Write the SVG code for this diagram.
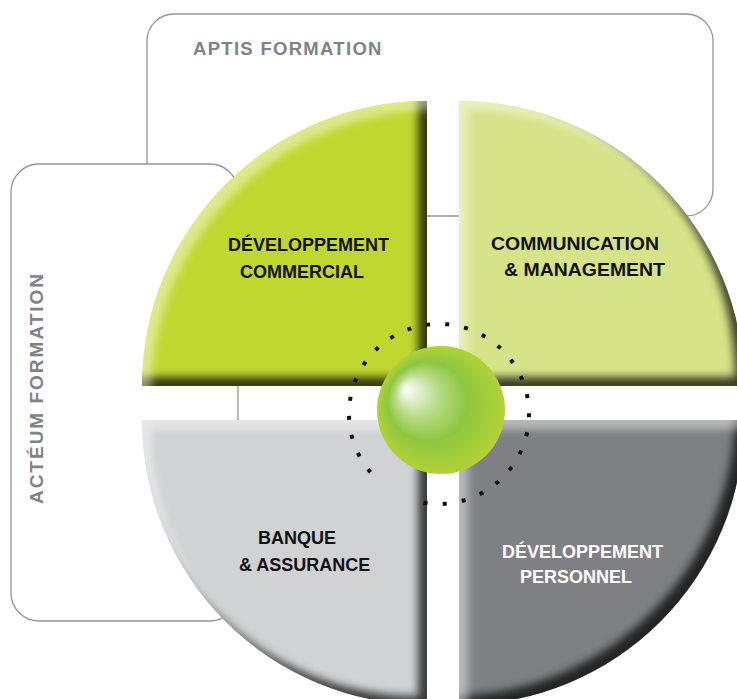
<svg xmlns="http://www.w3.org/2000/svg" width="737" height="699" viewBox="0 0 737 699">
  <style>
    .box { fill: #ffffff; stroke: #939598; stroke-width: 1.3; }
    .side { font-family: "Liberation Sans", Arial, sans-serif; font-weight: bold; fill: #808285; }
    .lbl { font-family: "Liberation Sans", Arial, sans-serif; font-weight: bold; font-size: 18px; fill: #111111; }
    .lbl.w { fill: #ffffff; }
    .q { filter: url(#bevel); }
  </style>
  <defs>
    <filter id="bevel" x="-5%" y="-5%" width="110%" height="110%" color-interpolation-filters="sRGB">
      <feGaussianBlur in="SourceAlpha" stdDeviation="4" result="b"/>
      <feOffset in="b" dx="-9" dy="-9" result="bs"/>
      <feComposite in="SourceAlpha" in2="bs" operator="out" result="sm"/>
      <feFlood flood-color="#000000" flood-opacity="0.72"/>
      <feComposite in2="sm" operator="in" result="sh"/>
      <feOffset in="b" dx="9" dy="9" result="bh"/>
      <feComposite in="SourceAlpha" in2="bh" operator="out" result="hm"/>
      <feFlood flood-color="#ffffff" flood-opacity="0.45"/>
      <feComposite in2="hm" operator="in" result="hl"/>
      <feMerge>
        <feMergeNode in="SourceGraphic"/>
        <feMergeNode in="sh"/>
        <feMergeNode in="hl"/>
      </feMerge>
    </filter>
    <radialGradient id="sph" cx="0.5" cy="0.5" r="0.5" fx="0.22" fy="0.33">
      <stop offset="0" stop-color="#ffffff"/>
      <stop offset="0.08" stop-color="#eef6e3"/>
      <stop offset="0.35" stop-color="#b5da82"/>
      <stop offset="0.62" stop-color="#8ec640"/>
      <stop offset="1" stop-color="#b1d236"/>
    </radialGradient>
  </defs>

  <g id="aptis-formation">
    <rect class="box" x="147" y="14" width="566" height="202" rx="27"/>
    <text class="side" x="193" y="55" font-size="18.5" letter-spacing="1.3">APTIS FORMATION</text>
  </g>

  <g id="acteum-formation">
    <rect class="box" x="11" y="164" width="227" height="457" rx="28"/>
    <text class="side" transform="translate(43,388) rotate(-90)" x="0" y="0" font-size="19" letter-spacing="2" text-anchor="middle">ACTÉUM FORMATION</text>
  </g>

  <g id="developpement-commercial">
    <path class="q" d="M427,386 L142,386 A285,285 0 0 1 427,101 Z" fill="#c0d72f"/>
    <text class="lbl" x="228" y="251">DÉVELOPPEMENT</text>
    <text class="lbl" x="240" y="278">COMMERCIAL</text>
  </g>

  <g id="communication-management">
    <path class="q" d="M459,386 L459,101 A285,285 0 0 1 744,386 Z" fill="#d6e388"/>
    <text class="lbl" x="491" y="250" textLength="168" lengthAdjust="spacingAndGlyphs">COMMUNICATION</text>
    <text class="lbl" x="504" y="276" textLength="161" lengthAdjust="spacingAndGlyphs">&amp; MANAGEMENT</text>
  </g>

  <g id="banque-assurance">
    <path class="q" d="M427,420 L427,705 A285,285 0 0 1 142,420 Z" fill="#d1d2d4"/>
    <text class="lbl" x="258" y="544">BANQUE</text>
    <text class="lbl" x="239" y="571">&amp; ASSURANCE</text>
  </g>

  <g id="developpement-personnel">
    <path class="q" d="M459,420 L744,420 A285,285 0 0 1 459,705 Z" fill="#7f8083"/>
    <text class="lbl w" x="502" y="558">DÉVELOPPEMENT</text>
    <text class="lbl w" x="520" y="583">PERSONNEL</text>
  </g>

  <g id="connectors">
    <path d="M369.2,470.8 A90,90 0 1 1 407.3,498.2" fill="none" stroke="#111111" stroke-width="4" stroke-linecap="square" stroke-dasharray="0.01 19.17"/>
  </g>

  <g id="center">
    <circle cx="441" cy="410" r="64" fill="url(#sph)"/>
  </g>
</svg>
